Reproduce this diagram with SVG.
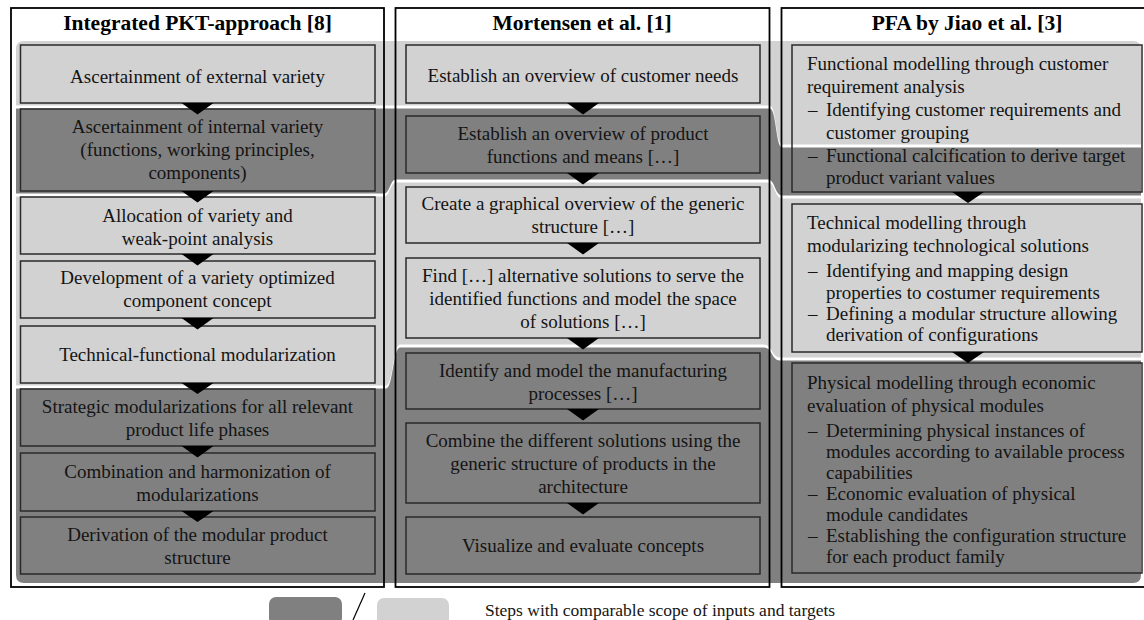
<svg xmlns="http://www.w3.org/2000/svg" width="1144" height="620" viewBox="0 0 1144 620">
<style>
.lt{fill:#d2d2d2}
.dk{fill:#808080}
.frame{fill:none;stroke:#000;stroke-width:1.8}
.box{fill:none;stroke:#2a2a2a;stroke-width:1.5}
.tri{fill:#000}
text{font-family:"Liberation Serif","Times New Roman",serif;font-size:19px;fill:#141414}
.c{text-anchor:middle}
.title{font-weight:bold;font-size:21.5px;fill:#000}
.leg{font-size:17.5px}
</style>
<rect width="1144" height="620" fill="#fff"/>
<g id="bands">
<path class="lt" d="M16,49 Q16,41 24,41 H1133 Q1141,41 1141,49 V144.5 H782 C776,144.5 776,105.5 770,105.5 H16 Z"/>
<path class="dk" d="M16,108.5 H770 C776,108.5 776,147.5 782,147.5 H1141 V195.5 H782 C775,195.5 775,179.5 768,179.5 H396 C390,179.5 390,193.5 384,193.5 H16 Z"/>
<path class="lt" d="M16,196.5 H384 C390,196.5 390,182.5 396,182.5 H768 C775,182.5 775,198.5 782,198.5 H1141 V357.5 H780 C772,357.5 772,344.5 764,344.5 H400 C393,344.5 393,385.5 386,385.5 H16 Z"/>
<path class="dk" d="M16,388.5 H386 C393,388.5 393,347.5 400,347.5 H764 C772,347.5 772,360.5 780,360.5 H1141 V575 Q1141,583 1133,583 H24 Q16,583 16,575 Z"/>
</g>
<g id="frames">
<rect class="frame" x="11" y="8" width="373" height="579"/>
<rect class="frame" x="395.5" y="8" width="374" height="579"/>
<rect class="frame" x="781.5" y="8" width="370" height="579"/>
<text class="title c" x="197.5" y="29.5">Integrated PKT-approach [8]</text>
<text class="title c" x="582" y="29.5">Mortensen et al. [1]</text>
<text class="title c" x="967" y="29.5">PFA by Jiao et al. [3]</text>
</g>
<g id="pkt1"><rect class="box" x="20.5" y="45" width="354.5" height="58"/><text class="c" x="197.5" y="82.5">Ascertainment of external variety</text></g>
<g id="pkt2"><rect class="box" x="20.5" y="109" width="354.5" height="82"/><text class="c" x="197.5" y="133">Ascertainment of internal variety<tspan x="197.5" y="156">(functions, working principles,</tspan><tspan x="197.5" y="179">components)</tspan></text></g>
<g id="pkt3"><rect class="box" x="20.5" y="197" width="354.5" height="57"/><text class="c" x="197.5" y="221.5">Allocation of variety and<tspan x="197.5" y="244.5">weak-point analysis</tspan></text></g>
<g id="pkt4"><rect class="box" x="20.5" y="261" width="354.5" height="57"/><text class="c" x="197.5" y="284">Development of a variety optimized<tspan x="197.5" y="307">component concept</tspan></text></g>
<g id="pkt5"><rect class="box" x="20.5" y="326" width="354.5" height="57"/><text class="c" x="197.5" y="361">Technical-functional modularization</text></g>
<g id="pkt6"><rect class="box" x="20.5" y="389" width="354.5" height="57"/><text class="c" x="197.5" y="413">Strategic modularizations for all relevant<tspan x="197.5" y="436">product life phases</tspan></text></g>
<g id="pkt7"><rect class="box" x="20.5" y="453" width="354.5" height="58"/><text class="c" x="197.5" y="477.5">Combination and harmonization of<tspan x="197.5" y="500.5">modularizations</tspan></text></g>
<g id="pkt8"><rect class="box" x="20.5" y="517" width="354.5" height="57"/><text class="c" x="197.5" y="541">Derivation of the modular product<tspan x="197.5" y="564">structure</tspan></text></g>
<g id="mor1"><rect class="box" x="406" y="45" width="354" height="58"/><text class="c" x="583" y="82">Establish an overview of customer needs</text></g>
<g id="mor2"><rect class="box" x="406" y="116" width="354" height="57"/><text class="c" x="583" y="140">Establish an overview of product<tspan x="583" y="163">functions and means […]</tspan></text></g>
<g id="mor3"><rect class="box" x="406" y="187" width="354" height="56"/><text class="c" x="583" y="210">Create a graphical overview of the generic<tspan x="583" y="233">structure […]</tspan></text></g>
<g id="mor4"><rect class="box" x="406" y="258" width="354" height="80"/><text class="c" x="583" y="282">Find […] alternative solutions to serve the<tspan x="583" y="305">identified functions and model the space</tspan><tspan x="583" y="328">of solutions […]</tspan></text></g>
<g id="mor5"><rect class="box" x="406" y="353" width="354" height="56"/><text class="c" x="583" y="377">Identify and model the manufacturing<tspan x="583" y="400">processes […]</tspan></text></g>
<g id="mor6"><rect class="box" x="406" y="423" width="354" height="80"/><text class="c" x="583" y="447">Combine the different solutions using the<tspan x="583" y="470">generic structure of products in the</tspan><tspan x="583" y="493">architecture</tspan></text></g>
<g id="mor7"><rect class="box" x="406" y="517" width="354" height="57"/><text class="c" x="583" y="552">Visualize and evaluate concepts</text></g>
<g id="pfa1"><rect class="box" x="792" y="45" width="350" height="147"/><text x="807" y="70">Functional modelling through customer<tspan x="807" y="92.5">requirement analysis</tspan><tspan x="808" y="116">–</tspan><tspan x="826" y="116">Identifying customer requirements and</tspan><tspan x="826" y="138.5">customer grouping</tspan><tspan x="808" y="162">–</tspan><tspan x="826" y="162">Functional calcification to derive target</tspan><tspan x="826" y="184">product variant values</tspan></text></g>
<g id="pfa2"><rect class="box" x="792" y="204" width="350" height="148"/><text x="807" y="229">Technical modelling through<tspan x="807" y="251.5">modularizing technological solutions</tspan><tspan x="808" y="277">–</tspan><tspan x="826" y="277">Identifying and mapping design</tspan><tspan x="826" y="298.5">properties to costumer requirements</tspan><tspan x="808" y="320">–</tspan><tspan x="826" y="320">Defining a modular structure allowing</tspan><tspan x="826" y="341">derivation of configurations</tspan></text></g>
<g id="pfa3"><rect class="box" x="792" y="363" width="350" height="210"/><text x="807" y="388.5">Physical modelling through economic<tspan x="807" y="411.5">evaluation of physical modules</tspan><tspan x="808" y="436.5">–</tspan><tspan x="826" y="436.5">Determining physical instances of</tspan><tspan x="826" y="458">modules according to available process</tspan><tspan x="826" y="478.5">capabilities</tspan><tspan x="808" y="500">–</tspan><tspan x="826" y="500">Economic evaluation of physical</tspan><tspan x="826" y="520.5">module candidates</tspan><tspan x="808" y="542">–</tspan><tspan x="826" y="542">Establishing the configuration structure</tspan><tspan x="826" y="563">for each product family</tspan></text></g>
<g id="connectors">
<polygon class="tri" points="181.5,103 213.5,103 197.5,114.5"/>
<polygon class="tri" points="181.5,191 213.5,191 197.5,202.5"/>
<polygon class="tri" points="181.5,254 213.5,254 197.5,265.5"/>
<polygon class="tri" points="181.5,318 213.5,318 197.5,329.5"/>
<polygon class="tri" points="181.5,383 213.5,383 197.5,394"/>
<polygon class="tri" points="181.5,446 213.5,446 197.5,457.5"/>
<polygon class="tri" points="181.5,511 213.5,511 197.5,522"/>
<polygon class="tri" points="567,103 599,103 583,114.5"/>
<polygon class="tri" points="567,173 599,173 583,184.5"/>
<polygon class="tri" points="567,243 599,243 583,254.5"/>
<polygon class="tri" points="567,338 599,338 583,349.5"/>
<polygon class="tri" points="567,409 599,409 583,420.5"/>
<polygon class="tri" points="567,503 599,503 583,514.5"/>
<polygon class="tri" points="952,192 984,192 968,203"/>
<polygon class="tri" points="952,352 984,352 968,363"/>
</g>
<g id="legend">
<rect class="dk" x="269" y="597" width="73" height="28" rx="7"/>
<line x1="365" y1="593" x2="353" y2="620" stroke="#000" stroke-width="1.2"/>
<rect class="lt" x="377" y="598" width="72" height="28" rx="7"/>
<text class="leg" x="485" y="615.5">Steps with comparable scope of inputs and targets</text>
</g>
</svg>
